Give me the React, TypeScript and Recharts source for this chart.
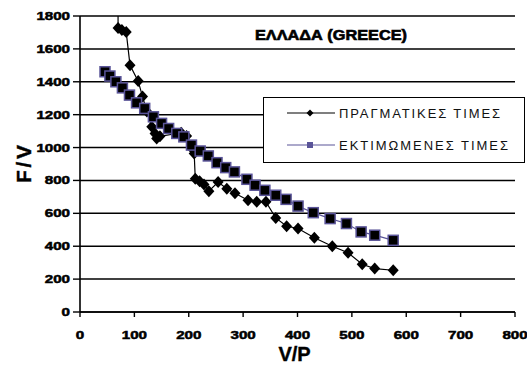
import { ScatterChart, Scatter, XAxis, YAxis, CartesianGrid, Legend } from 'recharts'

document.body.style.margin = '0'

// ΠΡΑΓΜΑΤΙΚΕΣ ΤΙΜΕΣ (actual values)
const realVP = [70, 70, 77, 85, 92, 107, 115, 123, 132, 138, 141, 147, 186, 196, 206, 210, 212, 220, 228, 237, 254, 270, 285, 309, 325, 342, 360, 380, 401, 431, 464, 493, 519, 542, 576]
const realFV = [1850, 1727, 1715, 1702, 1500, 1404, 1310, 1220, 1126, 1086, 1055, 1068, 1090, 1070, 995, 964, 810, 795, 775, 735, 790, 750, 722, 680, 670, 670, 572, 522, 508, 452, 400, 360, 290, 264, 254]

// ΕΚΤΙΜΩΜΕΝΕΣ ΤΙΜΕΣ (estimated values)
const estVP = [46, 55, 66, 78, 91, 104, 119, 135, 150, 163, 178, 191, 205, 221, 236, 252, 268, 284, 307, 322, 340, 360, 379, 401, 429, 460, 490, 517, 542, 576]
const estFV = [1461, 1435, 1400, 1363, 1319, 1272, 1238, 1187, 1147, 1116, 1086, 1065, 1015, 979, 949, 908, 878, 852, 807, 771, 740, 710, 685, 644, 604, 568, 538, 487, 467, 436]

const xTicks = [0, 100, 200, 300, 400, 500, 600, 700, 800]
const yTicks = [0, 200, 400, 600, 800, 1000, 1200, 1400, 1600, 1800]
const seriesNames = ['ΠΡΑΓΜΑΤΙΚΕΣ ΤΙΜΕΣ', 'ΕΚΤΙΜΩΜΕΝΕΣ ΤΙΜΕΣ']
const title = 'ΕΛΛΑΔΑ (GREECE)'

const realData = realVP.map((x, i) => ({ x, y: realFV[i] }))
const estData = estVP.map((x, i) => ({ x, y: estFV[i] }))

const FONT = '"Liberation Sans", Arial, sans-serif'
const PURPLE = '#5a5498'

const Diamond = (p: any) => (
  <polygon
    points={`${p.cx},${p.cy - 6} ${p.cx + 5.5},${p.cy} ${p.cx},${p.cy + 6} ${p.cx - 5.5},${p.cy}`}
    fill="#000"
  />
)

const Square = (p: any) => (
  <rect x={p.cx - 5} y={p.cy - 5} width={10} height={10} fill="#000" stroke={PURPLE} strokeWidth={1.5} />
)

const YTick = (p: any) => {
  const s = String(p.payload.value)
  return (
    <text x={p.x} y={p.y + 4} textAnchor="end" fontFamily={FONT} fontSize={11} fontWeight="bold" fill="#000"
      stroke="#000" strokeWidth={0.5} textLength={s.length * 8.4} lengthAdjust="spacingAndGlyphs">
      {s}
    </text>
  )
}

const XTick = (p: any) => {
  const s = String(p.payload.value)
  return (
    <text x={p.x} y={p.y + 8} textAnchor="middle" fontFamily={FONT} fontSize={11} fontWeight="bold" fill="#000"
      stroke="#000" strokeWidth={0.5} textLength={s.length * 8.4} lengthAdjust="spacingAndGlyphs">
      {s}
    </text>
  )
}

const LegendBox = () => (
  <div style={{ width: 262, height: 66, border: '1.5px solid #000', background: '#fff', boxSizing: 'border-box' }}>
    <svg width={259} height={63} style={{ display: 'block' }}>
      <line x1={23} y1={15} x2={71} y2={15} stroke="#000" strokeWidth={1.2} />
      <polygon points="46,11.5 49.5,15 46,18.5 42.5,15" fill="#000" />
      <text x={75} y={20} fontFamily={FONT} fontSize={13} fill="#111" textLength={161}>{seriesNames[0]}</text>
      <line x1={23} y1={47} x2={71} y2={47} stroke={PURPLE} strokeWidth={1.2} />
      <rect x={43} y={44} width={6} height={6} fill={PURPLE} />
      <text x={75} y={52} fontFamily={FONT} fontSize={13} fill="#111" textLength={169}>{seriesNames[1]}</text>
    </svg>
  </div>
)

export default function App() {
  return (
    <div style={{ position: 'relative', width: 527, height: 365, background: '#fff' }}>
      <ScatterChart width={527} height={365} margin={{ top: 16, right: 12, bottom: 23, left: 8 }}>
        <CartesianGrid vertical={false} stroke="#000" strokeWidth={1.5} />
        <XAxis
          type="number"
          dataKey="x"
          domain={[0, 800]}
          ticks={xTicks}
          height={30}
          axisLine={{ stroke: '#000', strokeWidth: 1.6 }}
          tickLine={{ stroke: '#000', strokeWidth: 1.4 }}
          tickSize={5}
          tickMargin={14}
          tick={<XTick />}
          label={{
            content: (props: any) => (
              <text x={props.viewBox.x + props.viewBox.width / 2 - 3} y={361} textAnchor="middle"
                fontFamily={FONT} fontSize={20} fontWeight="bold" fill="#000" stroke="#000" strokeWidth={0.4}>V/P</text>
            ),
          }}
        />
        <YAxis
          type="number"
          dataKey="y"
          domain={[0, 1800]}
          ticks={yTicks}
          allowDataOverflow
          width={72}
          axisLine={{ stroke: '#000', strokeWidth: 1.6 }}
          tickLine={{ stroke: '#000', strokeWidth: 1.4 }}
          tickSize={7}
          tickMargin={3}
          tick={<YTick />}
          label={{
            content: (props: any) => (
              <text x={0} y={0} transform={`translate(31, ${props.viewBox.y + props.viewBox.height / 2}) rotate(-90)`}
                textAnchor="middle" fontFamily={FONT} fontSize={21} fontWeight="bold" fill="#000"
                stroke="#000" strokeWidth={0.4} textLength={38}>F/V</text>
            ),
          }}
        />
        <Legend
          layout="horizontal"
          verticalAlign="middle"
          align="center"
          content={<LegendBox />}
          wrapperStyle={{ left: 263, top: 97, width: 262, height: 66 }}
        />
        <Scatter
          name={seriesNames[0]}
          data={realData}
          line={{ stroke: '#000', strokeWidth: 1.2 }}
          shape={<Diamond />}
          isAnimationActive={false}
        />
        <Scatter
          name={seriesNames[1]}
          data={estData}
          line={{ stroke: PURPLE, strokeWidth: 1.2 }}
          shape={<Square />}
          isAnimationActive={false}
        />
      </ScatterChart>
      <svg width={527} height={50} style={{ position: 'absolute', left: 0, top: 0, pointerEvents: 'none' }}>
        <text x={255} y={40} fontFamily={FONT} fontSize={14} fontWeight="bold" fill="#000"
          stroke="#000" strokeWidth={0.6} textLength={152} lengthAdjust="spacingAndGlyphs">{title}</text>
      </svg>
    </div>
  )
}
